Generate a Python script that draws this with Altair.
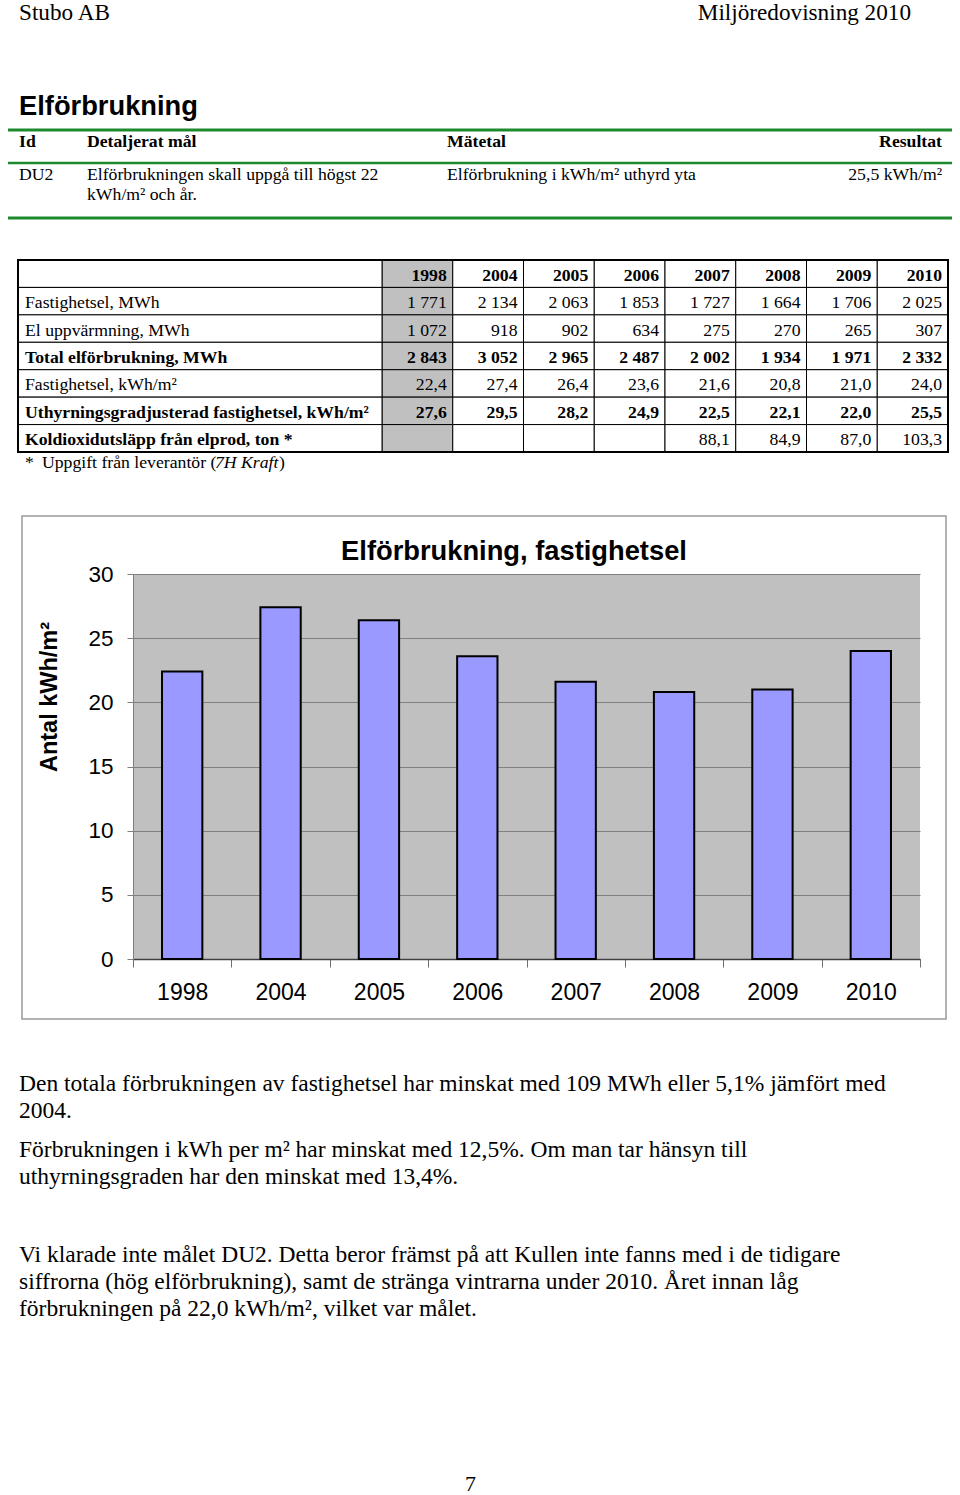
import altair as alt
import pandas as pd

# ---------------- data ----------------
years = ["1998", "2004", "2005", "2006", "2007", "2008", "2009", "2010"]
row_labels = [
    "",
    "Fastighetsel, MWh",
    "El uppvärmning, MWh",
    "Total elförbrukning, MWh",
    "Fastighetsel, kWh/m²",
    "Uthyrningsgradjusterad fastighetsel, kWh/m²",
    "Koldioxidutsläpp från elprod, ton *",
]
bold_labels = [True, False, False, True, False, True, True]
bold_values = [True, False, False, True, False, True, False]
fastighetsel_mwh = [1771, 2134, 2063, 1853, 1727, 1664, 1706, 2025]
el_uppvarmning_mwh = [1072, 918, 902, 634, 275, 270, 265, 307]
total_mwh = [2843, 3052, 2965, 2487, 2002, 1934, 1971, 2332]
fastighetsel_kwh_m2 = [22.4, 27.4, 26.4, 23.6, 21.6, 20.8, 21.0, 24.0]
uthyrning_kwh_m2 = [27.6, 29.5, 28.2, 24.9, 22.5, 22.1, 22.0, 25.5]
co2_ton = [None, None, None, None, 88.1, 84.9, 87.0, 103.3]

y_ticks = [0, 5, 10, 15, 20, 25, 30]

goal_header = ["Id", "Detaljerat mål", "Mätetal", "Resultat"]
goal_row = ["DU2", "Elförbrukningen skall uppgå till högst 22", "kWh/m² och år.",
            "Elförbrukning i kWh/m² uthyrd yta", "25,5 kWh/m²"]

paragraphs = [
    "Den totala förbrukningen av fastighetsel har minskat med 109 MWh eller 5,1% jämfört med",
    "2004.",
    "Förbrukningen i kWh per m² har minskat med 12,5%. Om man tar hänsyn till",
    "uthyrningsgraden har den minskat med 13,4%.",
    "Vi klarade inte målet DU2. Detta beror främst på att Kullen inte fanns med i de tidigare",
    "siffrorna (hög elförbrukning), samt de stränga vintrarna under 2010. Året innan låg",
    "förbrukningen på 22,0 kWh/m², vilket var målet.",
]

# ---------------- helpers ----------------
OX, OY = 133, 573          # page position of the plot origin
SERIF = "Liberation Serif"
SANS = "Liberation Sans"
GREEN = "#1e8a2e"
TFS = 17.7                 # table font size
one = pd.DataFrame({"a": [0]})


def X(px):
    return alt.value(px - OX)


def Y(py):
    return alt.value(py - OY)


def txt(s, x, y, size, font=SERIF, bold=False, italic=False, align="left", angle=0, color="black"):
    kw = dict(text=s, align=align, baseline="middle", font=font, fontSize=size,
              fontWeight="bold" if bold else "normal", color=color)
    if italic:
        kw["fontStyle"] = "italic"
    if angle:
        kw["angle"] = angle
    return alt.Chart(one).mark_text(**kw).encode(x=X(x), y=Y(y))


def hline(x1, x2, y, width, color):
    return alt.Chart(one).mark_rule(color=color, strokeWidth=width).encode(
        x=X(x1), x2=X(x2), y=Y(y))


def fmt_int(v):
    return f"{v:,}".replace(",", " ")


def fmt_dec(v):
    return "" if v is None else f"{v:.1f}".replace(".", ",")


# ---------------- page frame (sets the bounds to the full page) ----------------
page = alt.Chart(one).mark_rect(fill="white", opacity=0).encode(
    x=X(0), x2=X(960), y=Y(0), y2=Y(1495))

# ---------------- header ----------------
header = [
    txt("Stubo AB", 19, 11.5, 23.2),
    txt("Miljöredovisning 2010", 911, 11.5, 23.2, align="right"),
    txt("Elförbrukning", 19, 106, 27.3, font=SANS, bold=True),
    hline(8, 952, 129, 3, GREEN),
    txt(goal_header[0], 19, 141, TFS, bold=True),
    txt(goal_header[1], 87, 141, TFS, bold=True),
    txt(goal_header[2], 447, 141, TFS, bold=True),
    txt(goal_header[3], 942, 141, TFS, bold=True, align="right"),
    hline(8, 952, 162, 2.5, GREEN),
    txt(goal_row[0], 19, 174, TFS),
    txt(goal_row[1], 87, 174, TFS),
    txt(goal_row[2], 87, 194, TFS),
    txt(goal_row[3], 447, 174, TFS),
    txt(goal_row[4], 942, 174, TFS, align="right"),
    hline(8, 952, 217, 3, GREEN),
]

# ---------------- data table ----------------
row_keys = [f"r{i}" for i in range(len(row_labels))]
series_rows = [
    years,
    [fmt_int(v) for v in fastighetsel_mwh],
    [fmt_int(v) for v in el_uppvarmning_mwh],
    [fmt_int(v) for v in total_mwh],
    [fmt_dec(v) for v in fastighetsel_kwh_m2],
    [fmt_dec(v) for v in uthyrning_kwh_m2],
    [fmt_dec(v) for v in co2_ton],
]
cells = pd.DataFrame([
    {"row": row_keys[i], "col": years[j], "txt": series_rows[i][j], "bold": bold_values[i]}
    for i in range(len(row_keys)) for j in range(len(years))
])
labels = pd.DataFrame({"row": row_keys, "label": row_labels, "bold": bold_labels})

tx_scale = alt.Scale(domain=years, range=[382 - OX, 948 - OX], paddingInner=0, paddingOuter=0)
ty_scale = alt.Scale(domain=row_keys, range=[259 - OY, 451 - OY], paddingInner=0, paddingOuter=0)

cell_rects = alt.Chart(cells).mark_rect(stroke="black", strokeWidth=1).encode(
    x=alt.X("col:N", scale=tx_scale, axis=None),
    y=alt.Y("row:N", scale=ty_scale, axis=None),
    fill=alt.condition(alt.datum.col == "1998", alt.value("#c0c0c0"), alt.value("white")),
)
label_rects = alt.Chart(labels).mark_rect(fill="white", stroke="black", strokeWidth=1).encode(
    x=X(18), x2=X(382),
    y=alt.Y("row:N", scale=ty_scale, axis=None),
)
outer = alt.Chart(one).mark_rect(fill="transparent", stroke="black", strokeWidth=2).encode(
    x=X(18), x2=X(948), y=Y(259), y2=Y(451))


def cell_text(bold):
    return alt.Chart(cells).transform_filter(
        alt.datum.bold if bold else ~alt.datum.bold
    ).mark_text(align="right", baseline="middle", dx=-6, dy=2, font=SERIF, fontSize=TFS,
                fontWeight="bold" if bold else "normal", color="black").encode(
        x=alt.X("col:N", scale=tx_scale, axis=None, bandPosition=1),
        y=alt.Y("row:N", scale=ty_scale, axis=None),
        text="txt:N",
    )


def label_text(bold):
    return alt.Chart(labels).transform_filter(
        alt.datum.bold if bold else ~alt.datum.bold
    ).mark_text(align="left", baseline="middle", dy=2, font=SERIF, fontSize=TFS,
                fontWeight="bold" if bold else "normal", color="black").encode(
        x=X(25),
        y=alt.Y("row:N", scale=ty_scale, axis=None),
        text="label:N",
    )


table = alt.layer(cell_rects, label_rects, outer,
                  cell_text(True), cell_text(False), label_text(True), label_text(False))

footnote = [
    txt("*", 25, 462, TFS),
    txt("Uppgift från leverantör (", 42, 462, TFS),
    txt("7H Kraft", 215, 462, TFS, italic=True),
    txt(")", 279, 462, TFS),
]

# ---------------- bar chart ----------------
bars_df = pd.DataFrame({"year": years, "value": fastighetsel_kwh_m2})

frame = alt.Chart(one).mark_rect(fill="transparent", stroke="#999999", strokeWidth=1.5).encode(
    x=X(22), x2=X(946), y=Y(515), y2=Y(1018))

bars = alt.Chart(bars_df).mark_bar(
    color="#9999ff", stroke="black", strokeWidth=2, width={"band": 0.41}
).encode(
    x=alt.X("year:N", sort=years,
            scale=alt.Scale(paddingInner=0, paddingOuter=0),
            axis=alt.Axis(title=None, labelAngle=0, labelFont=SANS, labelFontSize=23,
                          labelColor="black", tickBand="extent", tickSize=8,
                          tickColor="#707070", domainColor="#404040", domainWidth=1.5,
                          labelPadding=14, grid=False)),
    y=alt.Y("value:Q", scale=alt.Scale(domain=[0, 30]),
            axis=alt.Axis(title=None, values=y_ticks, labelFont=SANS, labelFontSize=22.5,
                          labelColor="black", tickSize=6, labelPadding=14,
                          tickColor="#808080", domainColor="#808080", grid=True,
                          gridColor="#808080", gridWidth=1, gridOpacity=1)),
)

chart_texts = [
    txt("Elförbrukning, fastighetsel", 514, 551, 27.3, font=SANS, bold=True, align="center"),
    txt("Antal kWh/m²", 50, 696, 23.5, font=SANS, bold=True, align="center", angle=270),
]

para_y = [1083, 1110, 1149, 1176, 1254, 1281, 1308]
para = [txt(s, 19, yy, 23.5) for s, yy in zip(paragraphs, para_y)]
para.append(txt("7", 465, 1483, 22))

chart = alt.layer(
    page, frame, bars, table, *header, *footnote, *chart_texts, *para
).resolve_scale(
    x="independent", y="independent"
).properties(
    width=787, height=385, padding=0
).configure_view(
    fill="#c0c0c0", strokeWidth=0
)

chart.save("out.html", embed_options={"renderer": "svg", "actions": False})
